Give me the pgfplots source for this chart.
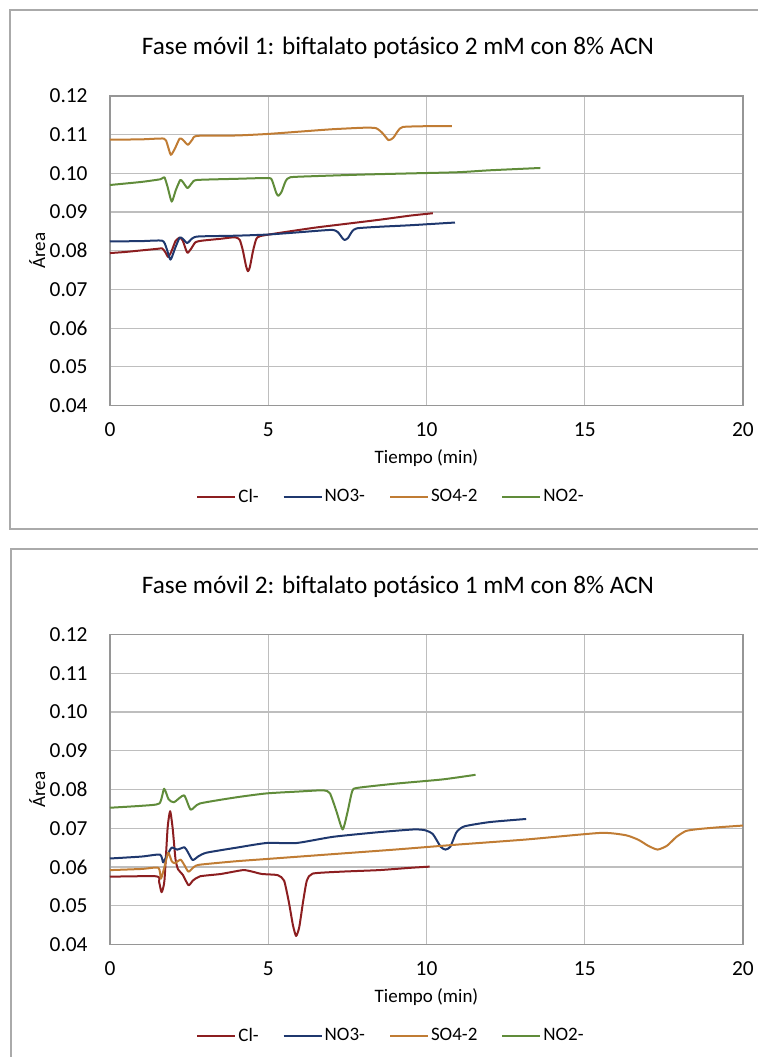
\documentclass[border=0pt]{standalone}
\usepackage{fontspec}
\setmainfont{Carlito}
\usepackage{pgfplots}
\pgfplotsset{compat=1.18}
\definecolor{clc}{RGB}{140,30,32}
\definecolor{noc}{RGB}{31,56,110}
\definecolor{soc}{RGB}{192,124,52}
\definecolor{ntc}{RGB}{96,140,58}
\definecolor{gridc}{RGB}{190,190,190}
\definecolor{axc}{RGB}{150,150,150}
\definecolor{framec}{RGB}{170,170,170}

\pgfplotsset{
  chartstyle/.style={
    scale only axis,
    width=316.5pt,
    xmin=0, xmax=20, ymin=0.04, ymax=0.12,
    xtick={0,5,10,15,20},
    ytick={0.04,0.05,0.06,0.07,0.08,0.09,0.10,0.11,0.12},
    grid=major,
    major grid style={gridc, line width=0.6pt},
    axis line style={axc, line width=0.6pt},
    major tick length=0pt,
    /pgf/number format/assume math mode=true,
    yticklabel style={/pgf/number format/fixed, /pgf/number format/fixed zerofill, /pgf/number format/precision=2, font=\fontsize{10.7}{12}\selectfont, inner sep=0pt, xshift=-11pt},
    xticklabel style={font=\fontsize{10.7}{12}\selectfont, inner sep=0pt, yshift=-8.5pt},
    scaled y ticks=false,
    xlabel={Tiempo (min)},
    ylabel={Área},
    xlabel style={font=\fontsize{9.5}{11}\selectfont, at={(axis description cs:0.5,-0.17)}, anchor=center},
    ylabel style={font=\fontsize{9.5}{11}\selectfont, at={(axis description cs:-0.115,0.5)}, anchor=center},
    legend columns=4,
    legend style={draw=none, fill=none, font=\fontsize{9.5}{10}\selectfont, at={(axis description cs:0.444,-0.296)}, anchor=center,
      /tikz/every even column/.append style={column sep=11pt}, nodes={inner sep=1pt}},
    legend image code/.code={\draw[#1] (0pt,0pt) -- (19pt,0pt);},
    every axis plot/.append style={line width=1pt, line join=round, smooth, tension=0.35},
  }
}

\begin{document}
\begin{tikzpicture}
% chart frames
\draw[framec, line width=0.6pt] (5pt,-5pt) rectangle (395pt,-264.5pt);
\draw[framec, line width=0.6pt] (5.5pt,-274.5pt) rectangle (395pt,-545pt);
% titles
\node[font=\fontsize{12.6}{14}\selectfont] at (199pt,-24pt) {Fase móvil 1: biftalato potásico 2 mM con 8\% ACN};
\node[font=\fontsize{12.6}{14}\selectfont] at (199pt,-293.5pt) {Fase móvil 2: biftalato potásico 1 mM con 8\% ACN};

% ---------- top chart ----------
\begin{axis}[chartstyle, height=154.75pt, at={(55pt,-202.75pt)}, anchor=south west]
\addplot[clc] coordinates {
(0,0.0794) (0.5,0.0797) (1.0,0.0801) (1.5,0.0805) (1.65,0.0806) (1.75,0.0796) (1.84,0.0784) (1.95,0.0800) (2.07,0.0825) (2.2,0.0834) (2.3,0.0826) (2.44,0.0795) (2.56,0.0805) (2.7,0.0822) (2.9,0.0826) (3.5,0.0831) (3.95,0.0835) (4.1,0.0828) (4.2,0.0800) (4.3,0.0760) (4.36,0.0747) (4.42,0.0758) (4.52,0.0800) (4.62,0.0830) (4.75,0.0838) (5.5,0.0848) (6.5,0.0860) (7.5,0.0870) (8.5,0.0880) (9.5,0.0891) (10.2,0.0897)};
\addplot[noc] coordinates {
(0,0.0824) (1.0,0.0825) (1.65,0.0826) (1.78,0.0808) (1.91,0.0777) (2.05,0.0805) (2.2,0.0834) (2.3,0.0831) (2.44,0.0820) (2.6,0.0832) (2.8,0.0837) (4.0,0.0839) (5.0,0.0842) (6.0,0.0848) (7.0,0.0854) (7.2,0.0848) (7.35,0.0832) (7.42,0.0828) (7.52,0.0833) (7.65,0.0850) (7.8,0.0858) (8.5,0.0862) (9.5,0.0866) (10.9,0.0873)};
\addplot[soc] coordinates {
(0,0.1087) (1.0,0.1088) (1.7,0.1090) (1.8,0.1078) (1.92,0.1048) (2.05,0.1064) (2.2,0.1090) (2.3,0.1087) (2.46,0.1074) (2.6,0.1087) (2.75,0.1097) (4.0,0.1098) (5.0,0.1102) (6.0,0.1108) (7.0,0.1114) (8.0,0.1118) (8.4,0.1117) (8.6,0.1105) (8.8,0.1086) (8.95,0.1092) (9.1,0.1110) (9.25,0.1120) (10.0,0.1122) (10.8,0.1122)};
\addplot[ntc] coordinates {
(0,0.0970) (1.0,0.0978) (1.6,0.0985) (1.72,0.0990) (1.82,0.0965) (1.95,0.0927) (2.08,0.0957) (2.22,0.0983) (2.3,0.0978) (2.45,0.0962) (2.6,0.0976) (2.75,0.0983) (4.0,0.0986) (5.0,0.0988) (5.12,0.0982) (5.25,0.0950) (5.32,0.0942) (5.42,0.0952) (5.55,0.0980) (5.7,0.0990) (6.5,0.0993) (8.0,0.0997) (9.5,0.1000) (11.0,0.1003) (12.0,0.1008) (13.6,0.1014)};
\legend{Cl-,NO3-,SO4-2,NO2-}
\end{axis}

% ---------- bottom chart ----------
\begin{axis}[chartstyle, height=155pt, at={(55pt,-472.25pt)}, anchor=south west]
\addplot[clc] coordinates {
(0,0.0575) (1.47,0.0576) (1.55,0.0562) (1.63,0.0535) (1.72,0.0565) (1.82,0.0700) (1.9,0.0744) (1.98,0.0700) (2.07,0.0620) (2.15,0.0594) (2.3,0.0580) (2.48,0.0553) (2.62,0.0565) (2.84,0.0576) (3.5,0.0582) (4.2,0.0592) (4.5,0.0588) (4.8,0.0582) (5.3,0.0579) (5.5,0.0565) (5.65,0.0510) (5.78,0.0450) (5.88,0.0422) (5.98,0.0445) (6.1,0.0510) (6.22,0.0565) (6.4,0.0583) (7.3,0.0588) (8.5,0.0592) (9.5,0.0598) (10.1,0.0601)};
\addplot[noc] coordinates {
(0,0.0622) (1.0,0.0627) (1.58,0.0632) (1.68,0.0612) (1.8,0.0630) (1.95,0.0650) (2.13,0.0645) (2.35,0.0651) (2.45,0.0640) (2.61,0.0618) (2.8,0.0628) (3.05,0.0637) (4.0,0.0650) (4.95,0.0662) (5.9,0.0662) (7.05,0.0678) (8.5,0.0690) (9.6,0.0697) (9.95,0.0695) (10.2,0.0685) (10.45,0.0652) (10.6,0.0645) (10.75,0.0652) (10.95,0.0690) (11.2,0.0705) (12.0,0.0716) (13.15,0.0724)};
\addplot[soc] coordinates {
(0,0.0592) (1.0,0.0595) (1.53,0.0598) (1.61,0.0570) (1.72,0.0600) (1.84,0.0637) (1.95,0.0615) (2.05,0.0610) (2.23,0.0619) (2.35,0.0605) (2.48,0.0588) (2.65,0.0600) (2.84,0.0606) (4.0,0.0615) (5.0,0.0621) (7.0,0.0633) (9.0,0.0645) (11.0,0.0658) (13.15,0.0671) (15.5,0.0688) (16.3,0.0682) (16.7,0.0670) (17.0,0.0655) (17.3,0.0645) (17.6,0.0655) (17.9,0.0678) (18.2,0.0693) (18.6,0.0698) (19.3,0.0703) (20.0,0.0707)};
\addplot[ntc] coordinates {
(0,0.0753) (1.0,0.0758) (1.56,0.0764) (1.71,0.0802) (1.85,0.0775) (2.02,0.0767) (2.34,0.0785) (2.55,0.0748) (2.84,0.0764) (4.0,0.0780) (4.95,0.0790) (6.0,0.0795) (6.75,0.0798) (6.95,0.0790) (7.15,0.0745) (7.35,0.0697) (7.5,0.0740) (7.65,0.0795) (7.8,0.0804) (9.0,0.0815) (10.5,0.0826) (11.55,0.0838)};
\legend{Cl-,NO3-,SO4-2,NO2-}
\end{axis}

\pgfresetboundingbox
\path[use as bounding box] (0pt,0pt) rectangle (379pt,-528.5pt);
\end{tikzpicture}
\end{document}
